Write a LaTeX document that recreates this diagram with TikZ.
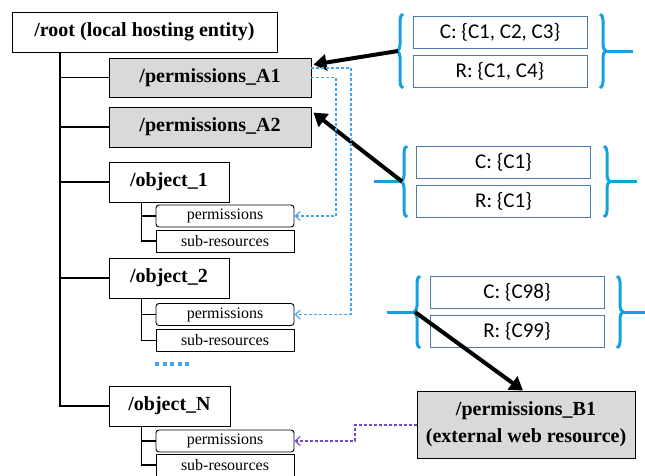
\documentclass[tikz,border=0pt]{standalone}
\usepackage{fontspec}
\setmainfont{Liberation Serif}
\newfontfamily\calibri{Carlito}
\usetikzlibrary{arrows.meta,positioning,calc,decorations.pathreplacing}
\definecolor{brblue}{RGB}{20,160,225}
\definecolor{dsblue}{RGB}{70,165,235}
\definecolor{dspurple}{RGB}{125,70,190}
\definecolor{setblue}{RGB}{80,120,165}
\definecolor{permgray}{RGB}{217,217,217}

\begin{document}
\begin{tikzpicture}[x=1pt,y=-1pt,
    box/.style={draw,line width=0.9pt,inner sep=0pt,font=\fontsize{20}{22}\selectfont\bfseries,align=center},
    sub/.style={draw,line width=0.9pt,inner sep=0pt,minimum width=138pt,minimum height=22pt,font=\fontsize{16}{17}\selectfont},
    setbox/.style={draw=setblue,line width=0.7pt,inner sep=0pt,minimum width=174pt,minimum height=32pt,font=\calibri\fontsize{21}{22}\selectfont},
    tree/.style={line width=1.1pt},
    brc/.style={brblue,line width=3pt,decorate,decoration={brace,amplitude=6pt}},
    link/.style={line width=4pt,-{Triangle[length=13pt,width=16pt]}},
    ref/.style={densely dashed,line width=1.1pt,-{Straight Barb[length=5pt,width=9pt]}}]
  \useasboundingbox (0,0) rectangle (645,475);
  % tree on the left
  \node[box,minimum width=265pt,minimum height=40pt] (root) at (144.5,32) {/root (local hosting entity)};
  \node[box,fill=permgray,minimum width=202pt,minimum height=39pt] (pa1) at (210,77.5) {/permissions\_A1};
  \node[box,fill=permgray,minimum width=202pt,minimum height=40pt] (pa2) at (210,127) {/permissions\_A2};
  \node[box,minimum width=120pt,minimum height=40pt] (obj1) at (169,182) {/object\_1};
  \node[sub,rounded corners=3pt] (obj1p) at (225,216) {permissions};
  \node[sub] (obj1s) at (225,241) {sub-resources};
  \node[box,minimum width=120pt,minimum height=40pt] (obj2) at (169,278) {/object\_2};
  \node[sub,rounded corners=3pt] (obj2p) at (225,314.5) {permissions};
  \node[sub] (obj2s) at (225,340.5) {sub-resources};
  \node[box,minimum width=121pt,minimum height=40pt] (objn) at (169.5,406) {/object\_N};
  \node[sub,rounded corners=3pt] (objnp) at (225,441) {permissions};
  \node[sub] (objns) at (225,465) {sub-resources};
  \draw[dsblue,line width=3.5pt,dash pattern=on 4pt off 3.5pt] (155,364) -- (192,364);
  \coordinate (trunk) at (60,52);
  \draw[tree] (trunk) -- (trunk |- objn.west) -- (objn.west);
  \foreach \n in {pa1,pa2,obj1,obj2}{\draw[tree] (trunk |- \n.west) -- (\n.west);}
  \foreach \o in {obj1,obj2,objn}{
    \draw[line width=1.6pt] ($(\o.south west)+(33,0)$) |- (\o s.west);
    \draw[line width=1.6pt] ($(\o.south west)+(33,0)$) |- (\o p.west);}
  % permission sets
  \node[setbox] (c1) at (500,32) {C: \{C1, C2, C3\}};
  \node[setbox] (r1) at (500,71) {R: \{C1, C4\}};
  \node[setbox] (c2) at (503.5,162.5) {C: \{C1\}};
  \node[setbox] (r2) at (503.5,201) {R: \{C1\}};
  \node[setbox] (c3) at (517,292.5) {C: \{C98\}};
  \node[setbox] (r3) at (517,331) {R: \{C99\}};
  \draw[brc] (403,88) -- (403,14) coordinate[midway] (l1);
  \draw[brc] (600,14) -- (600,88) coordinate[midway] (m1);
  \draw[brc] (407,217) -- (407,146) coordinate[midway] (l2);
  \draw[brc] (604,146) -- (604,217) coordinate[midway] (m2);
  \draw[brc] (420,348) -- (420,276) coordinate[midway] (l3);
  \draw[brc] (617,276) -- (617,348) coordinate[midway] (m3);
  \draw[brblue,line width=3pt] ($(m1)+(6,0)$) -- ++(27,0);
  \draw[brblue,line width=3pt] ($(l2)+(-6,0)$) -- ++(-27,0);
  \draw[brblue,line width=3pt] ($(m2)+(6,0)$) -- ++(27,0);
  \draw[brblue,line width=3pt] ($(l3)+(-6,0)$) -- ++(-27,0);
  \draw[brblue,line width=3pt] ($(m3)+(6,0)$) -- ++(25,0);
  % external resource
  \node[box,fill=permgray,minimum width=218pt,minimum height=67pt,font=\fontsize{20}{27}\selectfont\bfseries] (pb1) at (526,424.5) {/permissions\_B1\\(external web resource)};
  % assignments
  \draw[link] ($(l1)+(-5,0)$) -- ($(pa1.north east)+(2,7)$);
  \draw[link] ($(l2)+(-5,0)$) -- ($(pa2.north east)+(2,6)$);
  \draw[link] ($(l3)+(-5,0)$) -- ($(pb1.north)+(-3,0)$);
  \draw[ref,dsblue] ($(pa1.east)+(0,-9.5)$) -| (351,314.5) -- (obj2p.east);
  \draw[ref,dsblue] (pa1.east) -| (336,216) -- (obj1p.east);
  \draw[ref,dspurple] ($(pb1.west)+(0,0.5)$) -| (355,441) -- (objnp.east);
\end{tikzpicture}
\end{document}
